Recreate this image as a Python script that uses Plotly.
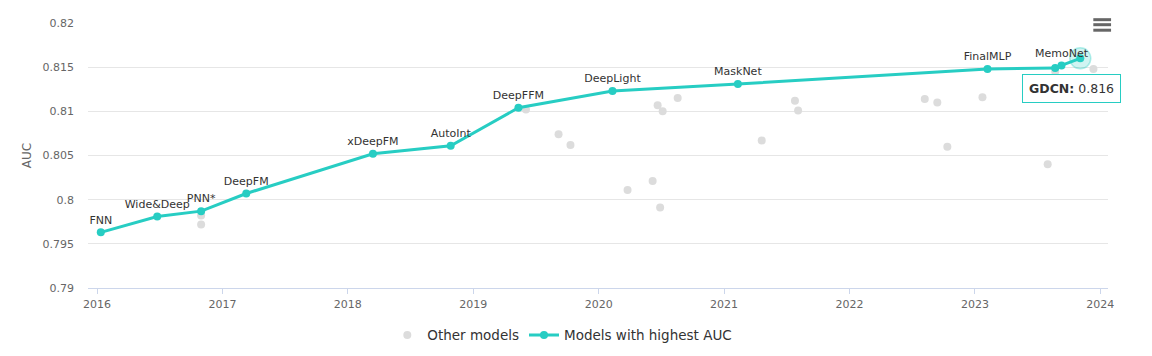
import plotly.graph_objects as go

# ---- data ----
best_years = [2016.03, 2016.48, 2016.83, 2017.19, 2018.20, 2018.82, 2019.36,
              2020.11, 2021.11, 2023.10, 2023.64, 2023.69, 2023.84]
best_auc = [0.7963, 0.7981, 0.7987, 0.8007, 0.8052, 0.8061, 0.8104,
            0.8123, 0.8131, 0.8148, 0.8149, 0.8152, 0.8160]
best_names = ["FNN", "Wide&Deep", "PNN*", "DeepFM", "xDeepFM", "AutoInt", "DeepFFM",
              "DeepLight", "MaskNet", "FinalMLP", "", "MemoNet", "GDCN"]
best_labels = ["FNN", "Wide&Deep", "PNN*", "DeepFM", "xDeepFM", "AutoInt", "DeepFFM",
               "DeepLight", "MaskNet", "FinalMLP", "", "MemoNet", ""]

other_years = [2016.83, 2016.83, 2019.42, 2019.68, 2019.775, 2020.23, 2020.43, 2020.47,
               2020.49, 2020.51, 2020.63, 2021.30, 2021.565, 2021.59, 2022.60, 2022.70,
               2022.78, 2023.06, 2023.58, 2023.60, 2023.64, 2023.945]
other_auc = [0.7982, 0.7972, 0.8102, 0.8074, 0.8062, 0.8011, 0.8021, 0.8107,
             0.7991, 0.8100, 0.8115, 0.8067, 0.8112, 0.8101, 0.8114, 0.8110,
             0.8060, 0.8116, 0.8040, 0.8117, 0.8145, 0.8148]

y_ticks = [0.79, 0.795, 0.8, 0.805, 0.81, 0.815, 0.82]
y_ticktext = ["0.79", "0.795", "0.8", "0.805", "0.81", "0.815", "0.82"]
x_ticks = [2016, 2017, 2018, 2019, 2020, 2021, 2022, 2023, 2024]
x_ticktext = ["2016", "2017", "2018", "2019", "2020", "2021", "2022", "2023", "2024"]

TEAL = "#27cdc3"
GRAY = "#dcdcdc"
FONT = "DejaVu Sans"

fig = go.Figure()

fig.add_trace(go.Scatter(
    x=other_years, y=other_auc, mode="markers", name="Other models",
    marker=dict(color=GRAY, size=8, line=dict(width=0)),
))

# hover halo on the highlighted point (last of best series)
fig.add_trace(go.Scatter(
    x=[best_years[-1]], y=[best_auc[-1]], mode="markers", showlegend=False,
    marker=dict(color="rgba(39,205,195,0.22)", size=21,
                line=dict(width=1.5, color="rgba(39,205,195,0.35)")),
    hoverinfo="skip",
))

fig.add_trace(go.Scatter(
    x=best_years, y=best_auc, mode="lines+markers+text", name="Models with highest AUC",
    text=best_labels, textposition="top center",
    textfont=dict(family=FONT, size=11, color="#333333"),
    customdata=best_names,
    hovertemplate="<b>%{customdata}</b>: %{y}<extra></extra>",
    line=dict(color=TEAL, width=3),
    marker=dict(color=TEAL, size=8),
))

# tooltip
fig.add_annotation(
    x=best_years[-1], y=best_auc[-1], xref="x", yref="y",
    text="<b>%s:</b> %.3f" % (best_names[-1], best_auc[-1]),
    showarrow=False, xshift=-9, yshift=-30,
    font=dict(family=FONT, size=12.5, color="#333333"),
    bgcolor="rgba(255,255,255,0.96)", bordercolor=TEAL, borderwidth=1, borderpad=6,
)

# export menu icon
for yy in [1.0125, 0.9936, 0.9728]:
    fig.add_shape(type="line", xref="paper", yref="paper",
                  x0=0.9856, x1=1.0030, y0=yy, y1=yy,
                  line=dict(color="#666666", width=3))

# page body has an 8px margin, so the figure is drawn 8px in from the corner
fig.update_layout(
    width=1144, height=348,
    margin=dict(l=80.3, r=44.3, t=15.3, b=67.7, autoexpand=False),
    paper_bgcolor="white", plot_bgcolor="white",
    font=dict(family=FONT, size=11, color="#666666"),
    showlegend=True,
    legend=dict(orientation="h", x=0.465, xanchor="center", y=-0.178, yanchor="middle",
                font=dict(family=FONT, size=13.5, color="#333333"),
                itemwidth=30, bgcolor="rgba(0,0,0,0)"),
    hovermode="closest",
)

fig.update_xaxes(
    range=[2015.928, 2024.061], tickvals=x_ticks, ticktext=x_ticktext,
    showgrid=False, zeroline=False, showline=True, linecolor="#ccd6eb", linewidth=1,
    ticks="outside", ticklen=5, tickcolor="#ccd6eb", automargin=False,
    ticklabelstandoff=1,
    tickfont=dict(family=FONT, size=11, color="#666666"),
)
fig.update_yaxes(
    range=[0.79, 0.82], tickvals=y_ticks, ticktext=y_ticktext, automargin=False,
    showgrid=True, gridcolor="#e6e6e6", gridwidth=1, zeroline=False, showline=False,
    tickfont=dict(family=FONT, size=11, color="#666666"),
    ticklabelstandoff=13,
    title=dict(text="AUC", font=dict(family=FONT, size=12, color="#666666"), standoff=8),
)

fig.write_html("out.html")
